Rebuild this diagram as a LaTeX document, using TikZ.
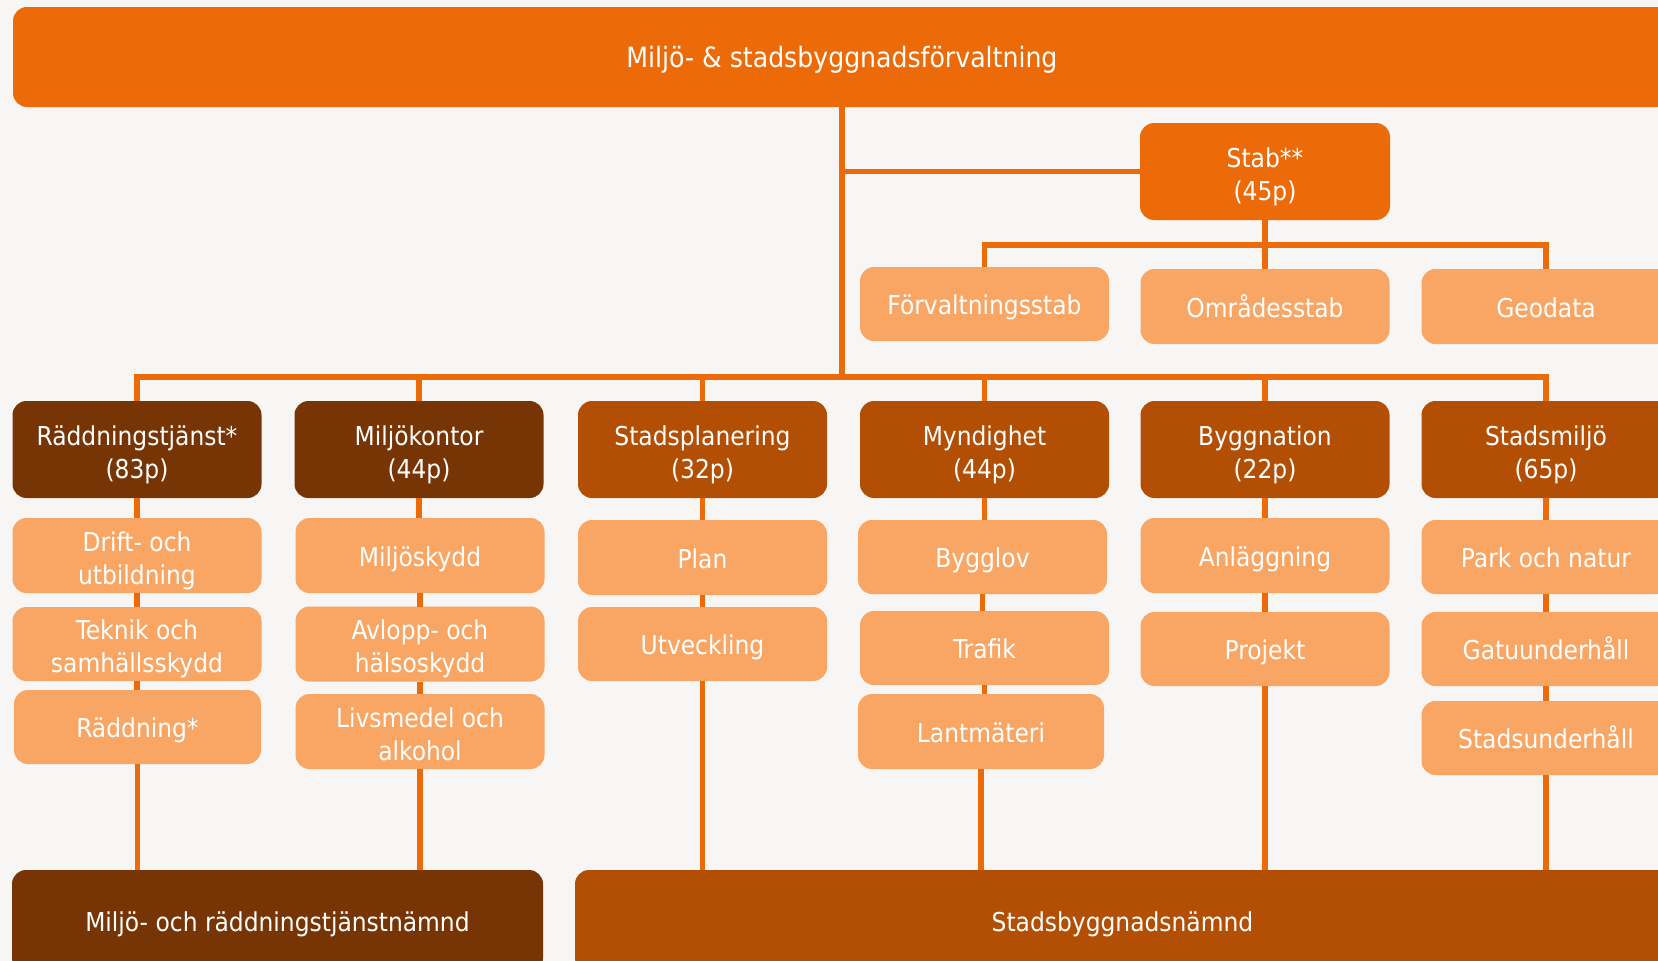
\documentclass[tikz,border=0pt]{standalone}
\usepackage{fontspec}
\setmainfont{DejaVu Sans Condensed}
\definecolor{bgc}{HTML}{F7F6F4}
\definecolor{topor}{HTML}{EC6B08}
\definecolor{lightor}{HTML}{F9A664}
\definecolor{darkbr}{HTML}{773505}
\definecolor{midbr}{HTML}{B24F04}
\newcommand{\mystrut}{\rule{0pt}{31pt}}
\begin{document}
\begin{tikzpicture}[x=1pt,y=-1pt,
  box/.style={rounded corners=14pt, inner sep=0pt, outer sep=0pt, text=white,
    align=center, font=\fontsize{26}{33}\selectfont,
    execute at begin node={\rule[-7pt]{0pt}{35pt}}},
  topbox/.style={box, fill=topor},
  lightbox/.style={box, fill=lightor},
  darkbox/.style={box, fill=darkbr},
  midbox/.style={box, fill=midbr},
  level/.style={minimum width=249pt, minimum height=97pt},
  sub/.style={minimum width=249pt, minimum height=75pt},
  link/.style={draw=topor, line width=5.5pt, line join=miter}]
\useasboundingbox (0,0) rectangle (1658,961);
\clip (0,0) rectangle (1658,961);
\fill[bgc] (0,0) rectangle (1658,961);

% top
\node[topbox, minimum width=1658pt, minimum height=100pt, font=\fontsize{28}{33}\selectfont] (top) at (842,57) {Miljö- \& stadsbyggnadsförvaltning};
\node[topbox, level, minimum width=250pt] (stab) at (1265,171.5) {\mystrut Stab**\\(45p)};
\node[lightbox, sub, minimum height=74pt] (fs) at (984.5,304) {Förvaltningsstab};
\node[lightbox, sub] (os) at (1265,306.5) {Områdesstab};
\node[lightbox, sub] (geo) at (1546,306.5) {Geodata};

% level 2
\node[darkbox, level] (rt) at (137,449.5) {\mystrut Räddningstjänst*\\(83p)};
\node[darkbox, level] (mk) at (419,449.5) {\mystrut Miljökontor\\(44p)};
\node[midbox, level] (sp) at (702.5,449.5) {\mystrut Stadsplanering\\(32p)};
\node[midbox, level] (my) at (984.5,449.5) {\mystrut Myndighet\\(44p)};
\node[midbox, level] (bn) at (1265,449.5) {\mystrut Byggnation\\(22p)};
\node[midbox, level] (sm) at (1546,449.5) {\mystrut Stadsmiljö\\(65p)};

% level 3
\node[lightbox, sub] (drift) at (137,555.5) {\mystrut Drift- och\\utbildning};
\node[lightbox, sub, minimum height=74pt] (tek) at (137,644) {\mystrut Teknik och\\samhällsskydd};
\node[lightbox, sub, minimum width=247pt, minimum height=74pt] (radd) at (137.5,727) {Räddning*};
\node[lightbox, sub] (mskydd) at (420,555.5) {Miljöskydd};
\node[lightbox, sub] (avl) at (420,644) {\mystrut Avlopp- och\\hälsoskydd};
\node[lightbox, sub] (livs) at (420,731.5) {\mystrut Livsmedel och\\alkohol};
\node[lightbox, sub] (plan) at (702.5,557.5) {Plan};
\node[lightbox, sub, minimum height=74pt] (utv) at (702.5,644) {Utveckling};
\node[lightbox, sub, minimum height=74pt] (bygg) at (982.5,557) {Bygglov};
\node[lightbox, sub, minimum height=74pt] (traf) at (984.5,648) {Trafik};
\node[lightbox, sub, minimum width=246pt] (lant) at (981,731.5) {Lantmäteri};
\node[lightbox, sub] (anl) at (1265,555.5) {Anläggning};
\node[lightbox, sub, minimum height=74pt] (proj) at (1265,649) {Projekt};
\node[lightbox, sub, minimum height=74pt] (park) at (1546,557) {Park och natur};
\node[lightbox, sub, minimum height=74pt] (gatu) at (1546,649) {Gatuunderhåll};
\node[lightbox, sub, minimum height=74pt] (stadsu) at (1546,738) {Stadsunderhåll};

% bottom
\node[darkbox, minimum width=531pt, minimum height=102pt] (mrn) at (277.5,921) {Miljö- och räddningstjänstnämnd};
\node[midbox, minimum width=1095pt, minimum height=102pt] (sbn) at (1122.5,921) {Stadsbyggnadsnämnd};

% connectors
\coordinate (hub) at (842,377);
\coordinate (stabhub) at (1265,245);
\draw[link] (top.south) -- (hub);
\draw[link] (stab.west) -- (stab.west -| top.south);
\draw[link] (stab.south) -- (stabhub);
\draw[link] (fs.north) |- (stabhub) -| (geo.north);
\draw[link] (stabhub) -- (os.north);
\draw[link] (rt.north) |- (hub) -| (sm.north);
\draw[link] (mk.north) -- (mk.north |- hub);
\draw[link] (sp.north) -- (sp.north |- hub);
\draw[link] (my.north) -- (my.north |- hub);
\draw[link] (bn.north) -- (bn.north |- hub);

\draw[link] (rt.south) -- (rt.south |- drift.north);
\draw[link] (drift.south) -- (drift.south |- tek.north);
\draw[link] (tek.south) -- (tek.south |- radd.north);
\draw[link] (radd.south) -- (radd.south |- mrn.north);

\draw[link] (mk.south) -- (mk.south |- mskydd.north);
\draw[link] (mskydd.south) -- (mskydd.south |- avl.north);
\draw[link] (avl.south) -- (avl.south |- livs.north);
\draw[link] (livs.south) -- (livs.south |- mrn.north);

\draw[link] (sp.south) -- (sp.south |- plan.north);
\draw[link] (plan.south) -- (plan.south |- utv.north);
\draw[link] (utv.south) -- (utv.south |- sbn.north);

\draw[link] (my.south) -- (my.south |- bygg.north);
\draw[link] (bygg.south) -- (bygg.south |- traf.north);
\draw[link] (traf.south) -- (traf.south |- lant.north);
\draw[link] (lant.south) -- (lant.south |- sbn.north);

\draw[link] (bn.south) -- (bn.south |- anl.north);
\draw[link] (anl.south) -- (anl.south |- proj.north);
\draw[link] (proj.south) -- (proj.south |- sbn.north);

\draw[link] (sm.south) -- (sm.south |- park.north);
\draw[link] (park.south) -- (park.south |- gatu.north);
\draw[link] (gatu.south) -- (gatu.south |- stadsu.north);
\draw[link] (stadsu.south) -- (stadsu.south |- sbn.north);
\end{tikzpicture}
\end{document}
